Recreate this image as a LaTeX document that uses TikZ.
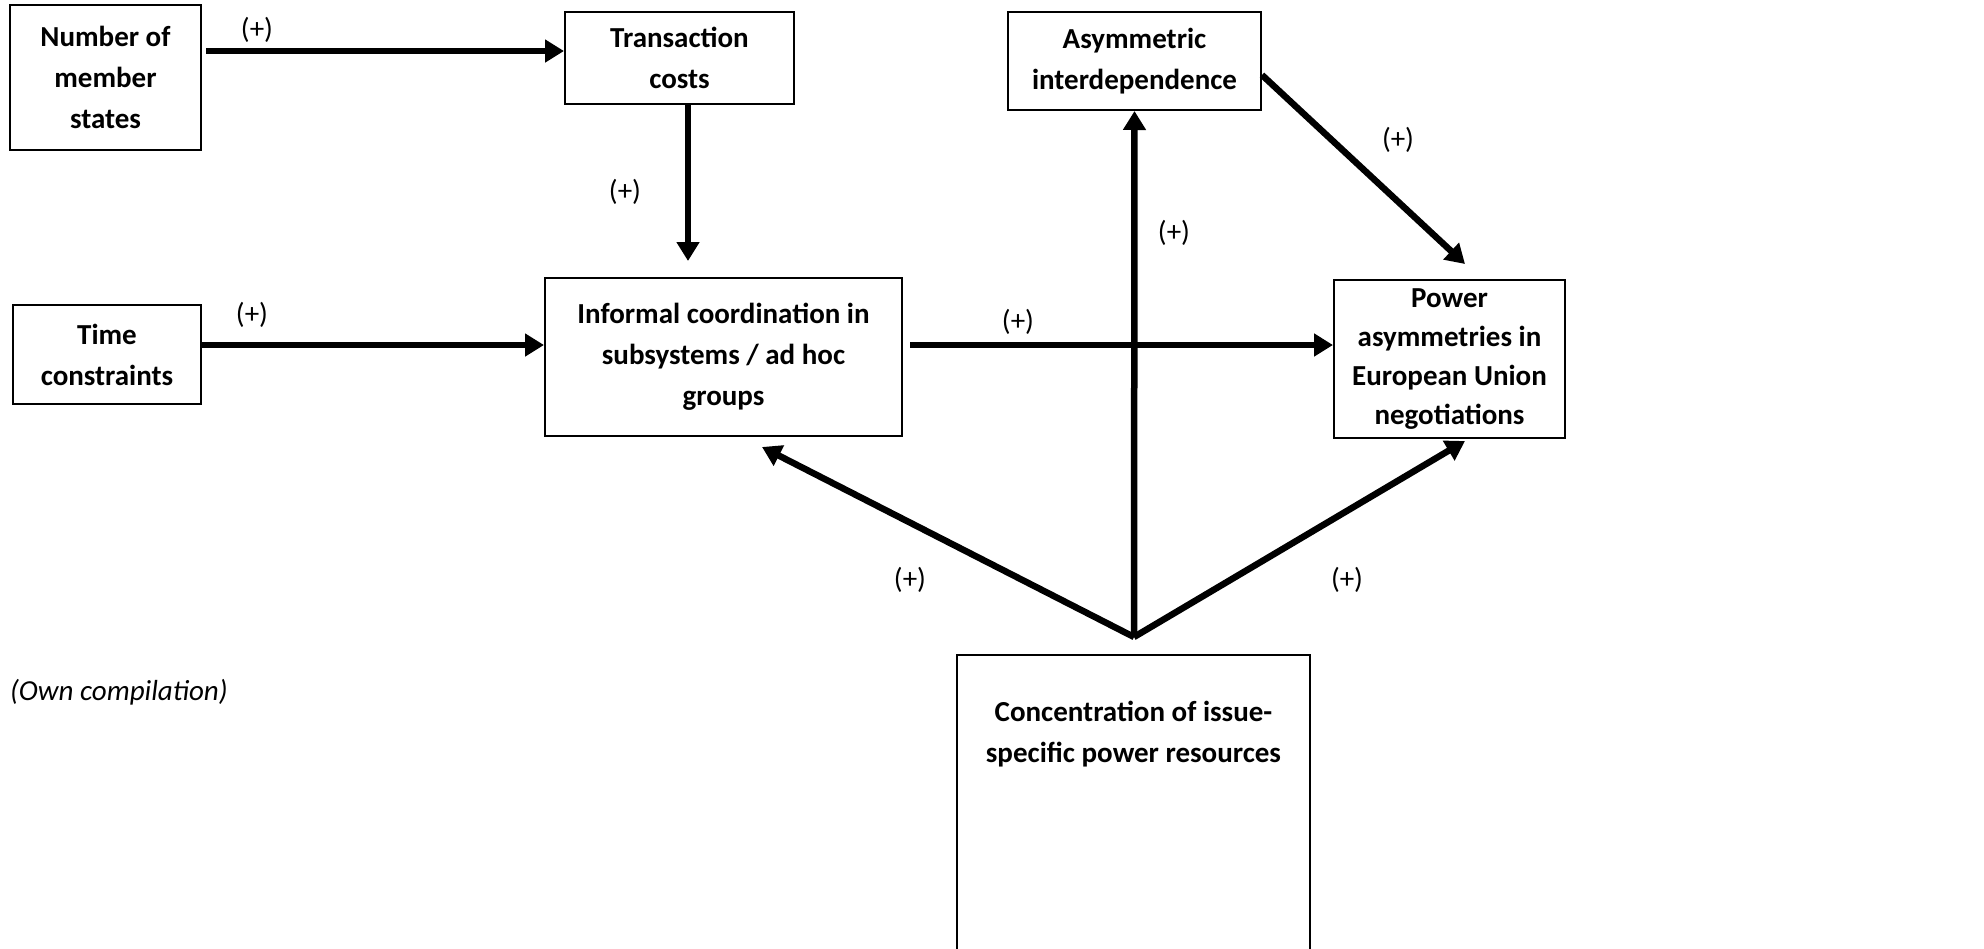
\documentclass[tikz,border=0pt]{standalone}
\usepackage{fontspec}
\setmainfont{Carlito}
\usetikzlibrary{arrows.meta}
\begin{document}
\begin{tikzpicture}[x=1pt,y=-1pt,
  box/.style={draw,line width=2pt,align=center,inner sep=0pt,font=\fontsize{29}{41}\selectfont\bfseries},
  arr/.style={line width=6.5pt,-{Triangle[length=19pt,width=22pt]}},
  lbl/.style={font=\fontsize{29}{35}\selectfont,inner sep=0pt}]
\useasboundingbox (0,0) rectangle (1984,948);
% boxes
\node[box,minimum width=191,minimum height=145] (num) at (105.5,77.5) {Number of\\member\\states};
\node[box,minimum width=229,minimum height=92] (trans) at (679.5,58) {Transaction\\costs};
\node[box,minimum width=253,minimum height=98] (asym) at (1134.5,61) {Asymmetric\\interdependence};
\node[box,minimum width=231,minimum height=158,font=\fontsize{29}{39}\selectfont\bfseries] (power) at (1449.5,359) {Power\\asymmetries in\\European Union\\negotiations};
\node[box,minimum width=188,minimum height=99] (time) at (107,354.5) {Time\\constraints};
\node[box,minimum width=357,minimum height=158] (inf) at (723.5,357) {Informal coordination in\\subsystems / ad hoc\\groups};
\node[box,minimum width=353,minimum height=346,anchor=north] (conc) at (1133.5,654) {};
\node[box,draw=none,anchor=north] (conctext) at (1133.5,700) {Concentration of issue-\\specific power resources};
\coordinate (hub) at (1134,637);
% connectors
\draw[arr] ([shift={(4,47)}]num.north east) -- ([shift={(0,40)}]trans.north west);
\draw[arr] ([shift={(8.5,0)}]trans.south) -- ([shift={(-35.5,-16)}]inf.north);
\draw[arr] ([shift={(0,-9.5)}]time.east) -- ([shift={(0,-12)}]inf.west);
\draw[arr] ([shift={(7,-12)}]inf.east) -- ([shift={(0,-14)}]power.west);
\draw[arr] (hub) -- (asym.south);
\draw[arr] ([shift={(0,14)}]asym.east) -- ([shift={(15.5,-15)}]power.north);
\draw[arr] (hub) -- ([shift={(38.5,10)}]inf.south);
\draw[arr] (hub) -- ([shift={(15.5,2)}]power.south);
% labels
\node[lbl] (l1) at (257,30) {(+)};
\node[lbl] (l2) at (625,192) {(+)};
\node[lbl] (l3) at (1174,233) {(+)};
\node[lbl] (l4) at (1398,140) {(+)};
\node[lbl] (l5) at (252,315) {(+)};
\node[lbl] (l6) at (1018,322) {(+)};
\node[lbl] (l7) at (910,580) {(+)};
\node[lbl] (l8) at (1347,580) {(+)};
\node[lbl,anchor=west,font=\fontsize{29}{35}\selectfont\itshape] (own) at (10,692) {(Own compilation)};
\end{tikzpicture}
\end{document}
